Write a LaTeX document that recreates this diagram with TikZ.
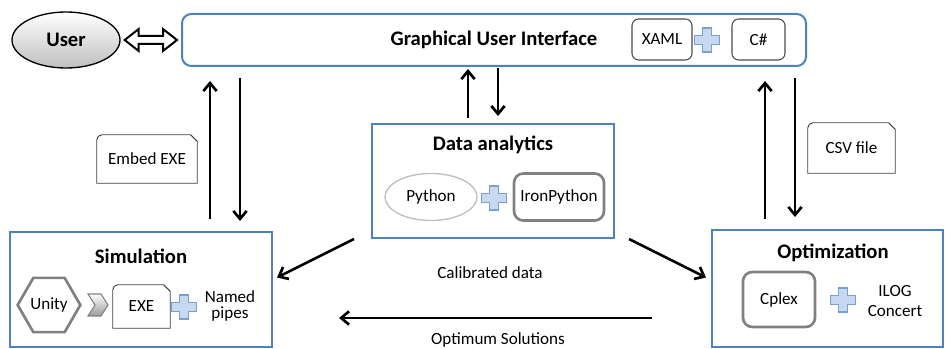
\documentclass[tikz,border=0pt]{standalone}
\usepackage{fontspec}
\setmainfont{Carlito}
\usetikzlibrary{shapes.geometric, arrows.meta, calc}
\definecolor{boxblue}{RGB}{79,129,189}
\definecolor{plusfill}{RGB}{198,217,241}
\definecolor{plusline}{RGB}{122,160,205}
% box with a round top-left and a cut top-right corner
\newcommand{\notebox}[1]{\draw[draw=black!75, line width=0.7pt] (#1.south west) -- ([yshift=-4pt]#1.north west) arc[start angle=180, end angle=90, radius=4pt] -- ([xshift=-5pt]#1.north east) -- ([yshift=-5pt]#1.north east) -- (#1.south east) -- cycle;}
\begin{document}
\begin{tikzpicture}[
				x=0.75pt, y=-0.75pt,
				every node/.style={font=\fontsize{12.8}{15}\selectfont, inner sep=0pt},
				title/.style={font=\fontsize{15.5}{18}\selectfont\bfseries},
				block/.style={draw=boxblue, line width=1.5pt},
				tool/.style={draw=black!70, line width=0.8pt, rounded corners=5pt},
				heavytool/.style={draw=black!50, line width=2pt, rounded corners=7pt},
				arr/.style={line width=2pt, -{Straight Barb[length=6pt, width=10pt]}},
				plus/.pic={\draw[draw=plusline, fill=plusfill, line width=0.8pt] (-4.5,-12) -- (4.5,-12) -- (4.5,-4.5) -- (12.5,-4.5) -- (12.5,4.5) -- (4.5,4.5) -- (4.5,12) -- (-4.5,12) -- (-4.5,4.5) -- (-12.5,4.5) -- (-12.5,-4.5) -- (-4.5,-4.5) -- cycle;},
			]
			\useasboundingbox (0,0) rectangle (946,349);
			% top row
			\node[ellipse, draw, line width=1pt, top color=white, bottom color=black!25, minimum width=81pt, minimum height=42pt, title] (user) at (66,40) {User};
			\node[block, rounded corners=7pt, minimum width=468pt, minimum height=39pt, title] (gui) at (494,40) {Graphical User Interface};
			\node[tool, minimum width=45pt, minimum height=30.75pt] (xaml) at (662,39.5) {XAML};
			\pic at (707,40) {plus};
			\node[tool, minimum width=39.75pt, minimum height=30.75pt] (csharp) at (758.5,39.5) {C\#};
			\draw[line width=1.5pt, line join=miter] ($(user.east)+(4,0)$) -- ++(14,-11) -- ++(0,7) -- ($(gui.west)+(-18,-4)$) -- ++(0,-7) -- ($(gui.west)+(-4,0)$) -- ++(-14,11) -- ++(0,-7) -- ($(user.east)+(18,4)$) -- ++(0,7) -- cycle;
			% notes
			\node[minimum width=75pt, minimum height=36pt] (embed) at (147,159) {Embed EXE};
			\notebox{embed}
			\node[minimum width=65.25pt, minimum height=37.5pt] (csv) at (851.5,148) {CSV file};
			\notebox{csv}
			% data analytics
			\node[block, minimum width=181.5pt, minimum height=85.5pt] (da) at (493,181) {};
			\node[title] (datitle) at (493,145) {Data analytics};
			\node[ellipse, draw=black!25, line width=1pt, minimum width=69pt, minimum height=35.25pt] (python) at (431,197) {Python};
			\pic at (494,198) {plus};
			\node[heavytool, minimum width=67.5pt, minimum height=35.25pt] (iron) at (559,197) {IronPython};
			% simulation
			\node[block, minimum width=196.5pt, minimum height=86.25pt] (sim) at (141,289.5) {};
			\node[title] (simtitle) at (141,256) {Simulation};
			\node[regular polygon, regular polygon sides=6, draw=black!50, line width=2pt, minimum size=47pt] (unity) at (49,305) {Unity};
			\draw[draw=black!50, line width=0.8pt, top color=white, bottom color=black!40] (88,294) -- (101,294) -- (108,305) -- (101,316) -- (88,316) -- (95,305) -- cycle;
			\node[minimum width=42.75pt, minimum height=32.25pt] (exe) at (141.5,306.5) {EXE};
			\notebox{exe}
			\pic at (184,307) {plus};
			\node[align=center, font=\fontsize{12.8}{12.5}\selectfont] (pipes) at (230,306) {Named\\pipes};
			% optimization
			\node[block, minimum width=173.25pt, minimum height=87.75pt] (opt) at (827.5,288.5) {};
			\node[title] (opttitle) at (833,253) {Optimization};
			\node[heavytool, minimum width=54pt, minimum height=41.25pt] (cplex) at (779,299.5) {Cplex};
			\pic at (843,300) {plus};
			\node[align=center] (ilog) at (895,301) {ILOG\\Concert};
			% labels
			\node (calib) at (490,273) {Calibrated data};
			\node (optsol) at (498,340) {Optimum Solutions};
			% arrows
			\draw[arr] ($(sim.north)+(69,-12)$) -- ($(gui.south)+(-284,14)$);
			\draw[arr] ($(gui.south)+(-254,11)$) -- ($(sim.north)+(99,-10)$);
			\draw[arr] ($(da.north)+(-25,-5)$) -- ($(gui.south)+(-26,2)$);
			\draw[arr] ($(gui.south)+(4,1)$) -- ($(da.north)+(5,-7)$);
			\draw[arr] ($(opt.north)+(-62.5,-10)$) -- ($(gui.south)+(271,14)$);
			\draw[arr] ($(gui.south)+(301,11)$) -- ($(opt.north)+(-32.5,-12)$);
			\draw[arr] ($(da.south west)+(-17,0)$) -- ($(sim.east)+(4,-12)$);
			\draw[arr] ($(da.south east)+(14,0)$) -- ($(opt.west)+(-5,-11)$);
			\draw[arr] ($(opt.south west)+(-59,-30)$) -- ($(sim.south east)+(66,-30)$);
			\end{tikzpicture}
\end{document}
